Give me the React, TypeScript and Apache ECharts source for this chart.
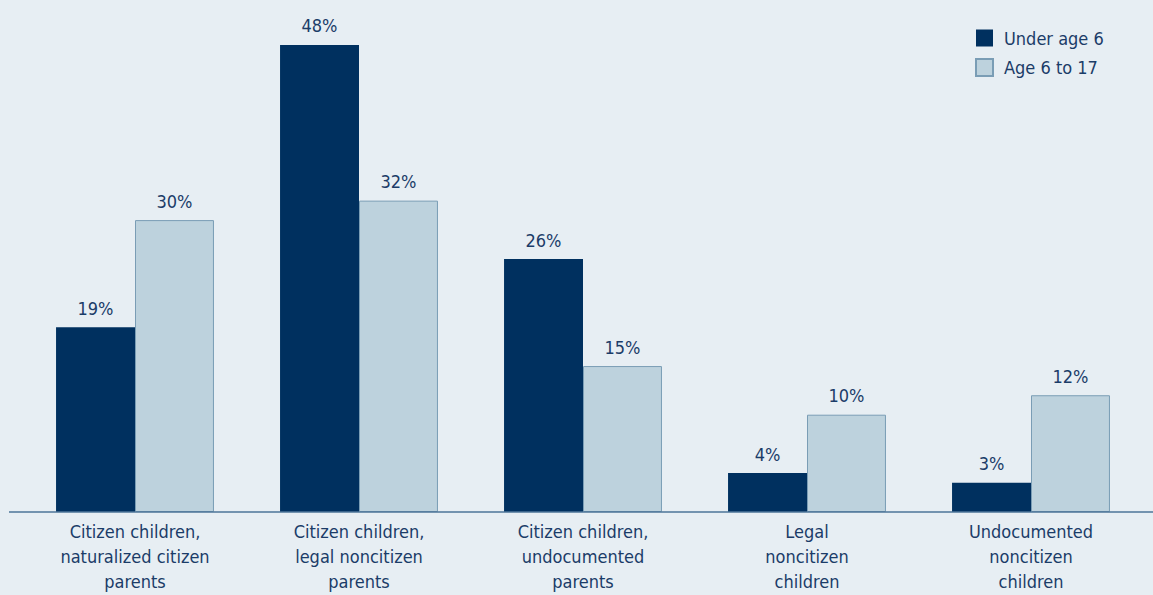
import React, { useEffect, useRef } from "react";
import * as echarts from "echarts";

const categories = [
  "Citizen children,\nnaturalized citizen\nparents",
  "Citizen children,\nlegal noncitizen\nparents",
  "Citizen children,\nundocumented\nparents",
  "Legal\nnoncitizen\nchildren",
  "Undocumented\nnoncitizen\nchildren",
];
const seriesNames = ["Under age 6", "Age 6 to 17"];
const underSix = [19, 48, 26, 4, 3];
const sixToSeventeen = [30, 32, 15, 10, 12];

const FONT = "'Liberation Sans Narrow', 'DejaVu Sans Condensed', 'Roboto', sans-serif";
const TEXT = "#1b3c68";

export default function App() {
  const ref = useRef<HTMLDivElement>(null);
  useEffect(() => {
    document.body.style.margin = "0";
    const chart = echarts.init(ref.current!, undefined, { renderer: "svg" });
    chart.setOption({
      animation: false,
      backgroundColor: "#e7eef3",
      textStyle: { fontFamily: FONT },
      legend: {
        orient: "vertical",
        left: 975,
        top: 29,
        padding: 0,
        itemWidth: 17,
        itemHeight: 17,
        itemGap: 11,
        icon: "rect",
        textStyle: { fontFamily: FONT, fontSize: 18, color: TEXT, padding: [0, 0, 0, 6] },
        data: seriesNames,
      },
      grid: { left: 23, right: 10, top: 25.5, bottom: 83, outerBoundsMode: "none", containLabel: false },
      xAxis: {
        type: "category",
        data: categories,
        axisLine: { show: false },
        axisTick: { show: false },
        axisLabel: {
          interval: 0,
          fontFamily: FONT,
          fontSize: 18,
          lineHeight: 25,
          color: TEXT,
          margin: 7,
        },
      },
      yAxis: {
        type: "value",
        min: 0,
        max: 50,
        show: false,
        splitLine: { show: false },
      },
      graphic: [
        {
          type: "line",
          shape: { x1: 9, y1: 512, x2: 1153, y2: 512 },
          style: { stroke: "#4d7498", lineWidth: 1.5 },
          z: 100,
        },
      ],
      series: [
        {
          name: seriesNames[0],
          type: "bar",
          data: underSix,
          barGap: "0%",
          barCategoryGap: "29.5%",
          itemStyle: { color: "#00305f" },
          label: {
            show: true,
            position: "top",
            distance: 10,
            formatter: "{c}%",
            fontFamily: FONT,
            fontSize: 18,
            color: TEXT,
          },
        },
        {
          name: seriesNames[1],
          type: "bar",
          data: sixToSeventeen,
          itemStyle: { color: "#bdd2dd", borderColor: "#7a9db5", borderWidth: 1 },
          label: {
            show: true,
            position: "top",
            distance: 10,
            formatter: "{c}%",
            fontFamily: FONT,
            fontSize: 18,
            color: TEXT,
          },
        },
      ],
    });
    return () => chart.dispose();
  }, []);
  return <div ref={ref} style={{ position: "fixed", left: 0, top: 0, width: 1153, height: 595 }} />;
}
